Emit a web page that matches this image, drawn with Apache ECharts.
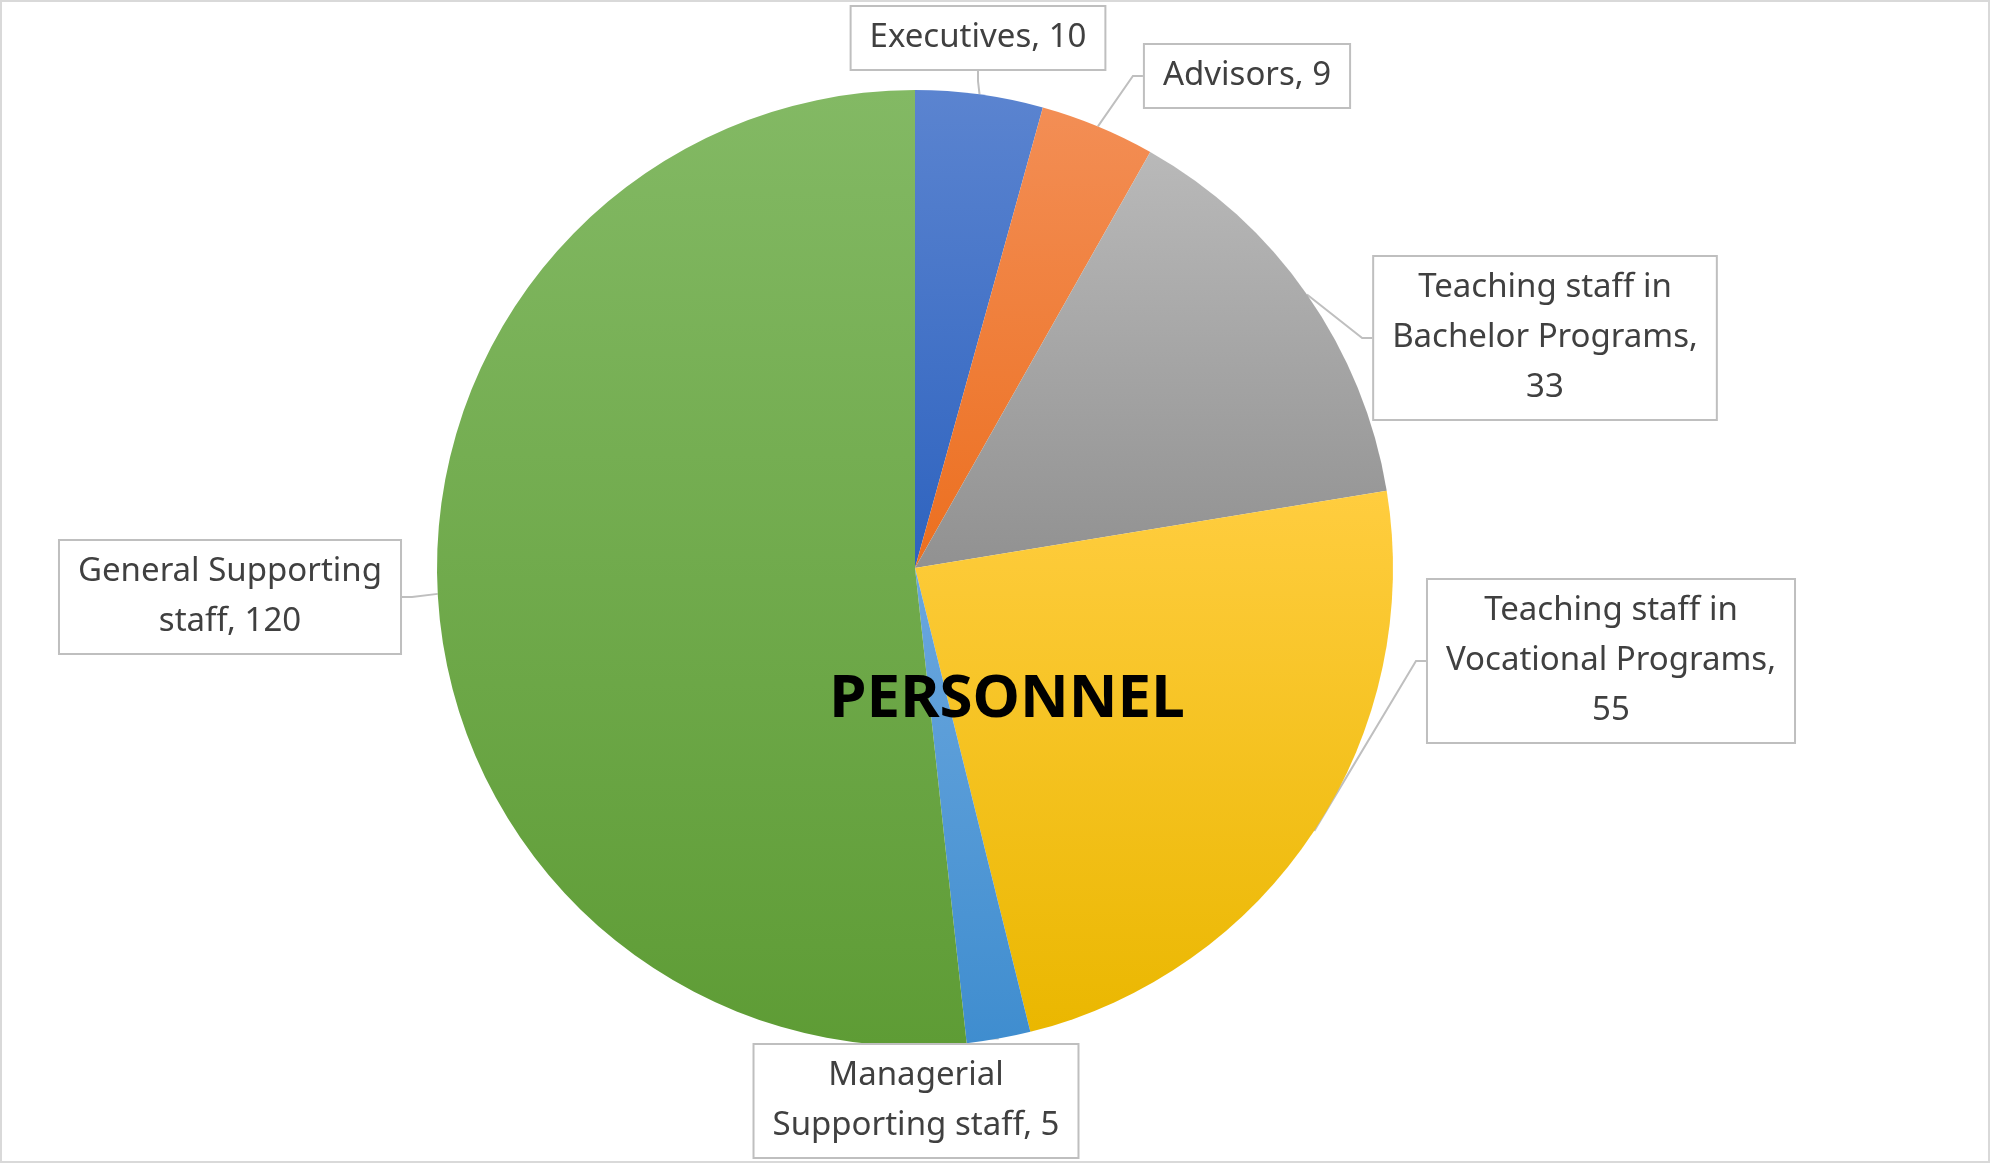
<!DOCTYPE html>
<html><head><meta charset="utf-8">
<script src="https://cdn.jsdelivr.net/npm/echarts@6/dist/echarts.min.js"></script>
<style>html,body{margin:0;padding:0;background:#fff}#c{width:1993px;height:1168px}</style>
</head><body><div id="c"></div>
<script>
const categories = ['Executives','Advisors','Teaching staff in Bachelor Programs','Teaching staff in Vocational Programs','Managerial Supporting staff','General Supporting staff'];
const values = [10,9,33,55,5,120];
const labelTexts = ['Executives, 10','Advisors, 9','Teaching staff in\nBachelor Programs,\n33','Teaching staff in\nVocational Programs,\n55','Managerial\nSupporting staff, 5','General Supporting\nstaff, 120'];
const colorsTop = ['#5B84D0','#F38E55','#B9B9B9','#FFCD3F','#6BA7DE','#83B964'];
const colorsBot = ['#2E63BF','#EC6F1F','#919191','#EAB700','#3F8DCF','#5E9C35'];
const labelPos = [[978,38],[1247,76],[1545,338],[1611,661],[916,1101],[230,597]];
const chart = echarts.init(document.getElementById('c'));
chart.setOption({
  animation:false,
  graphic:[{type:'rect',shape:{x:1,y:1,width:1988,height:1161},style:{fill:'none',stroke:'#d9d9d9',lineWidth:2}}],
  title:{text:'PERSONNEL',left:1002,top:695,textAlign:'center',textVerticalAlign:'middle',
    textStyle:{fontFamily:'Noto Sans',fontWeight:'bold',fontSize:60,color:'#000'}},
  series:[{
    type:'pie',center:[915,568],radius:478,startAngle:90,clockwise:true,
    data:categories.map((n,i)=>({name:n,value:values[i],
      itemStyle:{color:new echarts.graphic.LinearGradient(0,0,0,1,[{offset:0,color:colorsTop[i]},{offset:1,color:colorsBot[i]}])},
      label:{formatter:labelTexts[i]}})),
    itemStyle:{borderColor:'#fff',borderWidth:0},
    label:{show:true,position:'outside',fontFamily:'Noto Sans',fontSize:33,lineHeight:50,color:'#404040',
      backgroundColor:'#fff',borderColor:'#bfbfbf',borderWidth:2,padding:[6,18],align:'center'},
    labelLine:{show:true,length:10,length2:10,lineStyle:{color:'#bfbfbf',width:2}},
    labelLayout:function(p){const pos=labelPos[p.dataIndex];return {x:pos[0],y:pos[1],align:'center',verticalAlign:'middle'};}
  }]
});
</script></body></html>
